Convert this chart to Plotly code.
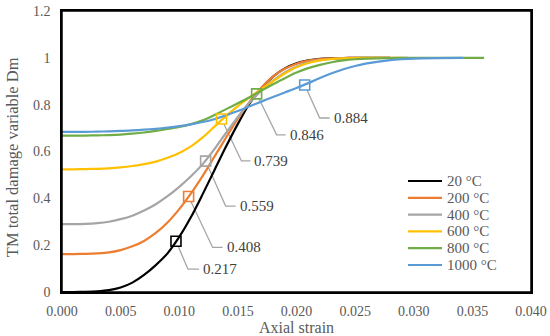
import plotly.graph_objects as go

# ---------------- data ----------------
series_names = ["20 °C", "200 °C", "400 °C", "600 °C", "800 °C", "1000 °C"]

grid = [0.000, 0.001, 0.002, 0.003, 0.004, 0.005, 0.006, 0.007, 0.008, 0.009,
        0.010, 0.011, 0.012, 0.013, 0.014, 0.015, 0.016, 0.017, 0.018, 0.019,
        0.020, 0.021, 0.022, 0.023, 0.024, 0.025, 0.026, 0.027, 0.028]

strain_20 = grid
dm_20 = [0.000, 0.000, 0.001, 0.003, 0.008, 0.019, 0.040, 0.073, 0.115, 0.165,
         0.235, 0.320, 0.418, 0.520, 0.622, 0.718, 0.805, 0.870, 0.920, 0.955,
         0.977, 0.989, 0.996, 0.998, 0.999, 1.000, 1.000, 1.000, 1.000]

strain_200 = grid
dm_200 = [0.162, 0.162, 0.163, 0.165, 0.169, 0.179, 0.195, 0.218, 0.252, 0.297,
          0.354, 0.421, 0.496, 0.578, 0.660, 0.740, 0.812, 0.872, 0.920, 0.953,
          0.975, 0.988, 0.995, 0.998, 0.999, 1.000, 1.000, 1.000, 1.000]

strain_400 = grid + [0.0295]
dm_400 = [0.290, 0.290, 0.291, 0.294, 0.300, 0.311, 0.326, 0.348, 0.375, 0.409,
          0.449, 0.494, 0.546, 0.610, 0.680, 0.748, 0.809, 0.860, 0.903, 0.938,
          0.963, 0.980, 0.990, 0.995, 0.998, 0.999, 1.000, 1.000, 1.000, 1.000]

strain_600 = grid + [0.029]
dm_600 = [0.524, 0.524, 0.525, 0.526, 0.528, 0.532, 0.538, 0.546, 0.557, 0.573,
          0.594, 0.622, 0.660, 0.706, 0.752, 0.794, 0.831, 0.866, 0.900, 0.933,
          0.960, 0.978, 0.989, 0.995, 0.998, 0.999, 1.000, 1.000, 1.000, 1.000]

strain_800 = grid + [0.030, 0.033, 0.036]
dm_800 = [0.668, 0.668, 0.668, 0.669, 0.670, 0.672, 0.676, 0.681, 0.688, 0.696,
          0.705, 0.717, 0.733, 0.756, 0.781, 0.806, 0.832, 0.860, 0.887, 0.913,
          0.937, 0.956, 0.970, 0.981, 0.989, 0.994, 0.997, 0.998, 0.999,
          1.000, 1.000, 1.000]

strain_1000 = grid + [0.029, 0.030, 0.032, 0.0342]
dm_1000 = [0.684, 0.684, 0.684, 0.685, 0.686, 0.688, 0.690, 0.693, 0.697, 0.702,
           0.708, 0.716, 0.726, 0.738, 0.755, 0.773, 0.793, 0.813, 0.833, 0.852,
           0.871, 0.892, 0.914, 0.934, 0.951, 0.965, 0.976, 0.984, 0.990,
           0.994, 0.997, 0.999, 1.000]

# marked points with their labels
mark_strain = [0.00972, 0.0108, 0.01225, 0.0136, 0.0166, 0.0207]
mark_value = [0.217, 0.408, 0.559, 0.739, 0.846, 0.884]

x_ticks = [0.000, 0.005, 0.010, 0.015, 0.020, 0.025, 0.030, 0.035, 0.040]
y_ticks = [0, 0.2, 0.4, 0.6, 0.8, 1.0, 1.2]
y_tick_text = ["0", "0.2", "0.4", "0.6", "0.8", "1", "1.2"]

# ---------------- styling ----------------
colors = ["#000000", "#ED7D31", "#A5A5A5", "#FFC000", "#70AD47", "#5B9BD5"]
# leader line geometry in pixels: (elbow dx, elbow dy down, horizontal run)
leader = [(12, 28, 11), (24, 51, 10), (20, 45, 10), (20, 42, 9), (20, 41, 9), (15, 33, 10)]
FONT = "Liberation Serif"
TXT = "#595959"
W, H = 550, 336
ML, MR, MT, MB = 62, 19, 11, 44
PW, PH = W - ML - MR, H - MT - MB

strains = [strain_20, strain_200, strain_400, strain_600, strain_800, strain_1000]
values = [dm_20, dm_200, dm_400, dm_600, dm_800, dm_1000]

fig = go.Figure()
for name, xs, ys, c in zip(series_names, strains, values, colors):
    fig.add_trace(go.Scatter(x=xs, y=ys, mode="lines", name=name, showlegend=False,
                             line=dict(color=c, width=2.2, shape="spline", smoothing=0.8)))

shapes = []
annotations = []
for i, (mx, my) in enumerate(zip(mark_strain, mark_value)):
    ex, ey, hx = leader[i]
    d = (ex * ex + ey * ey) ** 0.5
    sx, sy = ex * 5.5 / d, ey * 5.5 / d
    shapes.append(dict(type="path", xref="x", yref="y", xsizemode="pixel", ysizemode="pixel",
                       xanchor=mx, yanchor=my,
                       path=f"M {sx:.1f},{-sy:.1f} L {ex},{-ey} L {ex + hx},{-ey}",
                       line=dict(color="#A5A5A5", width=1.3), layer="below"))
    annotations.append(dict(x=mx, y=my, xref="x", yref="y", text=f"{my:.3f}",
                            showarrow=False, xanchor="left", yanchor="middle",
                            xshift=ex + hx + 2, yshift=-ey,
                            font=dict(family=FONT, size=15, color="#404040")))

fig.add_trace(go.Scatter(x=mark_strain, y=mark_value, mode="markers", showlegend=False,
                         hoverinfo="x+y",
                         marker=dict(symbol="square-open", size=10, color=colors,
                                     line=dict(width=1.6, color=colors))))

# legend drawn as lines + labels inside the plot area (Excel-like compact rows)
leg_x0, leg_x1, leg_tx = 408, 442, 445
leg_y0, leg_dy = 181, 16.8
for i, (name, c) in enumerate(zip(series_names, colors)):
    py = leg_y0 + i * leg_dy
    yp = (H - MB - py) / PH
    shapes.append(dict(type="line", xref="paper", yref="paper",
                       x0=(leg_x0 - ML) / PW, x1=(leg_x1 - ML) / PW, y0=yp, y1=yp,
                       line=dict(color=c, width=2.2)))
    annotations.append(dict(text=name, xref="paper", yref="paper",
                            x=(leg_tx - ML) / PW, y=yp, xanchor="left", yanchor="middle",
                            showarrow=False,
                            font=dict(family=FONT, size=15, color=TXT)))

# plot-area frame
shapes.append(dict(type="rect", xref="paper", yref="paper", x0=0, x1=1, y0=0, y1=1,
                   line=dict(color="#000000", width=1.5), layer="above"))

# axis titles
annotations.append(dict(text="Axial strain", xref="paper", yref="paper", x=0.5, y=-0.1246,
                        xanchor="center", yanchor="middle", showarrow=False,
                        font=dict(family=FONT, size=16, color=TXT)))
annotations.append(dict(text="TM total damage variable Dm", xref="paper", yref="paper",
                        x=-0.1055, y=0.478, xanchor="center", yanchor="middle",
                        textangle=-90, showarrow=False,
                        font=dict(family=FONT, size=16.5, color=TXT)))

fig.update_layout(
    width=W, height=H,
    margin=dict(l=ML, r=MR, t=MT, b=MB, pad=0),
    paper_bgcolor="white", plot_bgcolor="white",
    shapes=shapes, annotations=annotations,
    showlegend=False,
    xaxis=dict(range=[0, 0.04], tickvals=x_ticks, tickformat=".3f", automargin=False,
               showgrid=False, zeroline=False, showline=True, mirror=True,
               linecolor="#000000", linewidth=1.5, ticks="",
               ticklabelstandoff=5,
               tickfont=dict(family=FONT, size=14, color=TXT)),
    yaxis=dict(range=[0, 1.2], tickvals=y_ticks, ticktext=y_tick_text, automargin=False,
               showgrid=False, zeroline=False, showline=True, mirror=True,
               linecolor="#000000", linewidth=1.5, ticks="",
               ticklabelstandoff=7,
               tickfont=dict(family=FONT, size=14, color=TXT)),
)

fig.write_html("out.html", config={"displayModeBar": False},
               post_script="document.body.style.margin='0';document.body.style.padding='0';")
